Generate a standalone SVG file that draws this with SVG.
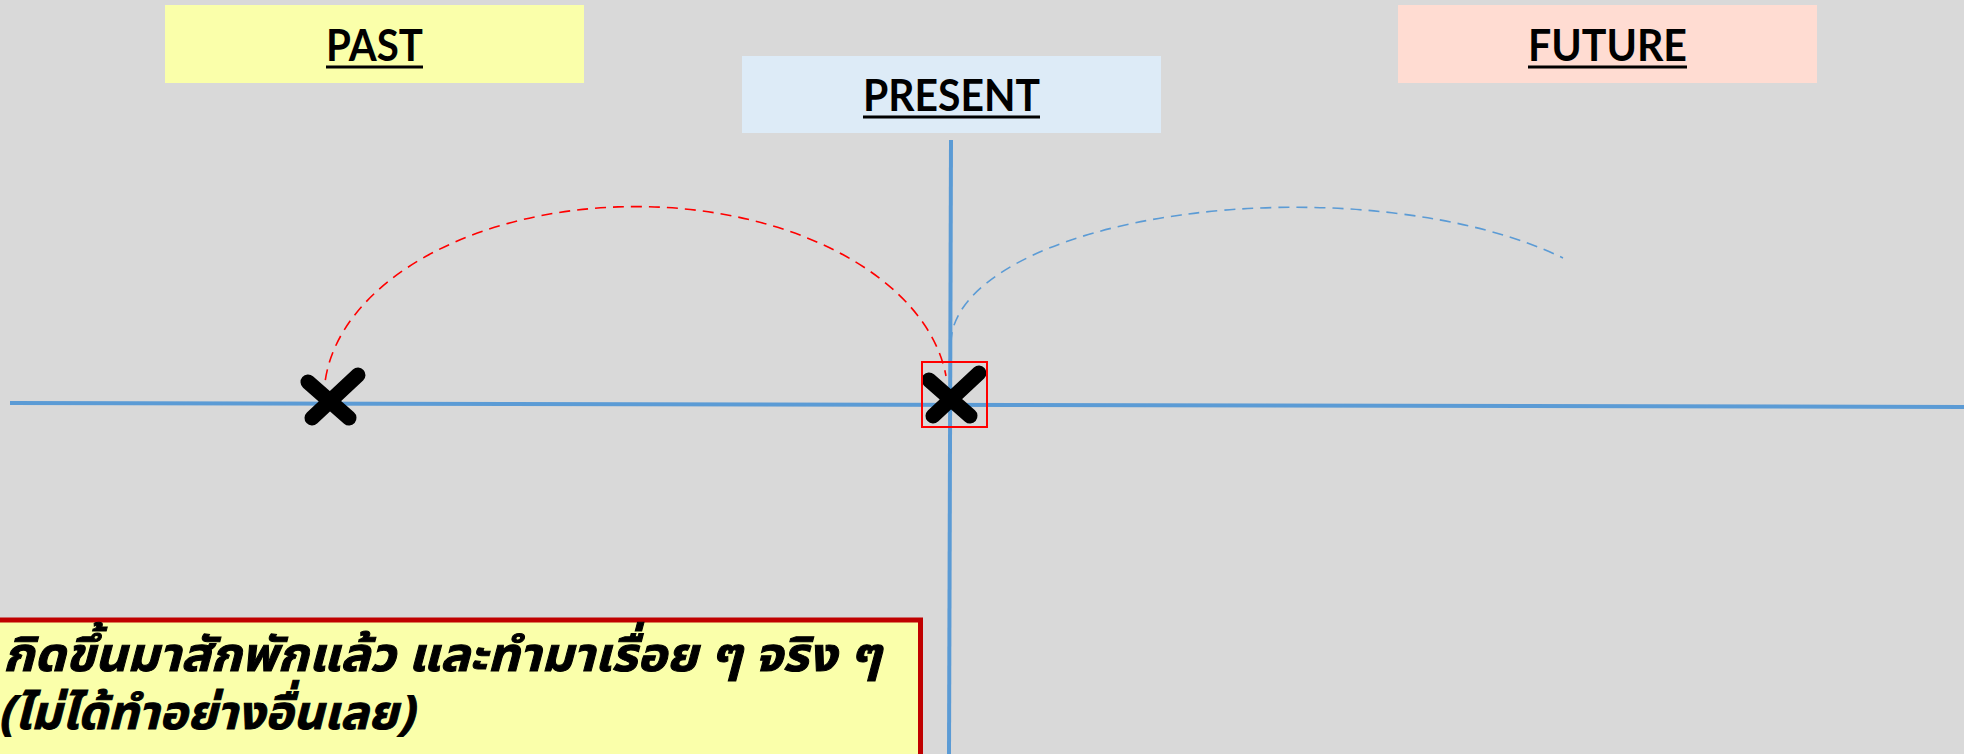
<svg xmlns="http://www.w3.org/2000/svg" xmlns:xlink="http://www.w3.org/1999/xlink" width="1964" height="754" viewBox="0 0 1964 754">
<style>
.hdr{font-family:Lato,"Open Sans","Liberation Sans",sans-serif;font-weight:700;font-size:43px;fill:#000}
.ul{fill:#000}
.axis{stroke:#5B9BD5;stroke-width:4;fill:none}
.arc{fill:none;stroke-width:1.6;stroke-dasharray:11 7}
.thai{font-family:"Noto Sans Thai","Noto Sans","DejaVu Sans",sans-serif;font-weight:700;font-style:italic;font-size:47px;fill:#000;stroke:#000;stroke-width:1}
.mark{stroke:#000;stroke-width:15;stroke-linecap:round;fill:none}
</style>
<defs>
<g id="xmark"><path class="mark" d="M-21,-18 L20,18 M29,-25 L-17,18"/></g>
</defs>
<rect x="0" y="0" width="1964" height="754" fill="#D9D9D9"/>
<g id="past">
<rect x="165" y="5" width="419" height="78" fill="#FAFFAA"/>
<text class="hdr" x="326" y="61" textLength="97" lengthAdjust="spacingAndGlyphs">PAST</text>
<rect class="ul" x="326" y="65.5" width="97" height="3"/>
</g>
<g id="present">
<rect x="742" y="56" width="419" height="77" fill="#DDEBF7"/>
<text class="hdr" x="863" y="111" textLength="177" lengthAdjust="spacingAndGlyphs">PRESENT</text>
<rect class="ul" x="863" y="115.5" width="177" height="3"/>
</g>
<g id="future">
<rect x="1398" y="5" width="419" height="78" fill="#FFDCD2"/>
<text class="hdr" x="1528" y="61" textLength="159" lengthAdjust="spacingAndGlyphs">FUTURE</text>
<rect class="ul" x="1528" y="65.5" width="159" height="3"/>
</g>
<g id="connectors">
<line class="axis" x1="10" y1="403" x2="1964" y2="407"/>
<line class="axis" x1="951" y1="140" x2="949" y2="754"/>
<path class="arc" stroke="#FF0000" d="M324,398 A312,191 0 0 1 946,376"/>
<path class="arc" stroke="#5B9BD5" d="M951,343 A344,136 0 0 1 1563,258"/>
</g>
<g id="past-point">
<use xlink:href="#xmark" transform="translate(329,400)"/>
</g>
<g id="present-point">
<use xlink:href="#xmark" transform="translate(950,398)"/>
<rect x="922" y="362" width="65" height="65" fill="none" stroke="#FF0000" stroke-width="2"/>
</g>
<g id="note">
<rect x="-10" y="620" width="930.5" height="200" fill="#FAFFAA" stroke="#C00000" stroke-width="5"/>
<text class="thai" x="3" y="671" textLength="878" lengthAdjust="spacingAndGlyphs">กิดขึ้นมาสักพักแล้ว และทำมาเรื่อย ๆ จริง ๆ</text>
<text class="thai" x="-2" y="729" textLength="416" lengthAdjust="spacingAndGlyphs">(ไม่ได้ทำอย่างอื่นเลย)</text>
</g>
</svg>
